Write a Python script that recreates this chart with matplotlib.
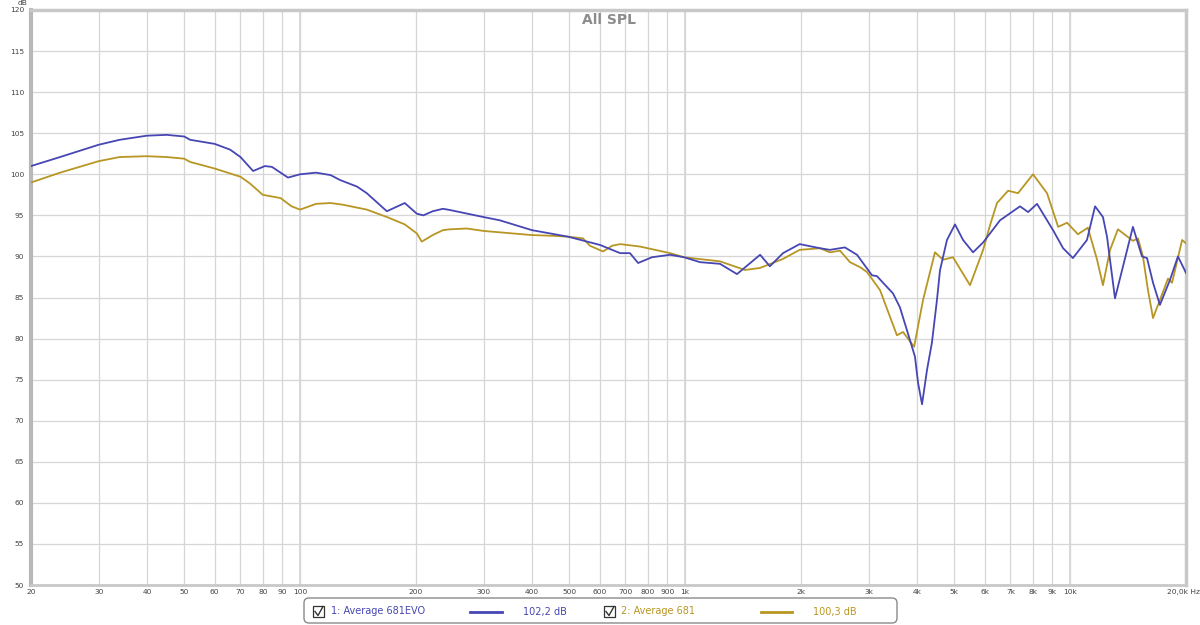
import matplotlib
matplotlib.use("Agg")
import matplotlib.pyplot as plt
from matplotlib.patches import FancyBboxPatch, Rectangle
from matplotlib.lines import Line2D

# ---------------- data ----------------
evo_freq = [20, 23.8, 30, 34, 40, 45, 50, 51.8, 60, 65.8, 70, 75.5, 81, 84.5, 93, 100,
            110, 120, 127, 140.6, 149, 168, 187, 201, 209, 221, 235, 245, 299, 330,
            400, 497, 601, 678, 719, 755, 820, 914, 994, 1094, 1232, 1364, 1566, 1660,
            1796, 1984, 2240, 2378, 2600, 2796, 3058, 3150, 3266, 3467, 3614, 3770,
            3954, 4028, 4125, 4250, 4376, 4510, 4592, 4788, 5024, 5272, 5596, 5944,
            6577, 7412, 7778, 8206, 9030, 9590, 10170, 11060, 11610, 12170, 12470,
            13080, 14560, 15370, 15840, 16420, 17110, 18160, 19060, 20000]
evo_db = [101.0, 102.1, 103.6, 104.2, 104.7, 104.8, 104.6, 104.2, 103.7, 103.0, 102.1,
          100.4, 101.0, 100.9, 99.6, 100.0, 100.2, 99.9, 99.3, 98.5, 97.7, 95.5, 96.5,
          95.2, 95.0, 95.5, 95.8, 95.65, 94.8, 94.4, 93.2, 92.4, 91.4, 90.4, 90.4,
          89.2, 89.9, 90.2, 89.9, 89.3, 89.1, 87.85, 90.2, 88.8, 90.4, 91.5, 91.0,
          90.8, 91.1, 90.2, 87.7, 87.6, 86.8, 85.5, 83.8, 81.0, 77.8, 74.6, 72.0,
          76.2, 79.5, 84.7, 88.3, 92.0, 93.9, 92.0, 90.5, 91.7, 94.4, 96.1, 95.4,
          96.4, 93.2, 91.0, 89.8, 92.0, 96.1, 94.8, 92.4, 84.9, 93.6, 90.0, 89.8,
          86.8, 84.1, 87.1, 90.0, 88.0]

std_freq = [20, 23.8, 30, 34, 40, 45, 50, 51.8, 60, 65.8, 70, 74, 80, 84.5, 89, 95,
            100, 110, 120, 129, 149, 168, 187, 201, 207, 221, 235, 245, 271, 300,
            400, 459, 497, 543, 566, 612, 646, 678, 764, 914, 994, 1232, 1431, 1566,
            1796, 1984, 2240, 2378, 2526, 2680, 2846, 2968, 3208, 3550, 3682, 3934,
            4150, 4456, 4676, 4964, 5496, 5944, 6194, 6458, 6902, 7324, 8012, 8710,
            9310, 9820, 10480, 11120, 11750, 12170, 12700, 13310, 14560, 15010,
            15460, 15930, 16420, 17110, 17960, 18400, 19540, 20000]
std_db = [99.0, 100.2, 101.6, 102.1, 102.2, 102.1, 101.9, 101.5, 100.7, 100.1, 99.7,
          98.9, 97.5, 97.3, 97.1, 96.1, 95.7, 96.4, 96.5, 96.3, 95.7, 94.8, 93.9,
          92.8, 91.8, 92.6, 93.2, 93.3, 93.4, 93.1, 92.6, 92.5, 92.4, 92.2, 91.3,
          90.6, 91.3, 91.5, 91.2, 90.4, 89.9, 89.4, 88.35, 88.6, 89.7, 90.8, 91.0,
          90.5, 90.7, 89.3, 88.7, 88.1, 85.9, 80.4, 80.8, 79.0, 84.7, 90.5, 89.6,
          89.9, 86.5, 90.8, 93.8, 96.5, 98.0, 97.7, 100.0, 97.7, 93.6, 94.1, 92.7,
          93.5, 89.6, 86.5, 90.8, 93.3, 91.9, 92.2, 90.0, 85.9, 82.5, 84.7, 87.3,
          86.8, 92.0, 91.6]

x_ticks = [20, 30, 40, 50, 60, 70, 80, 90, 100, 200, 300, 400, 500, 600, 700, 800,
           900, 1000, 2000, 3000, 4000, 5000, 6000, 7000, 8000, 9000, 10000, 20000]
x_labels = ["20", "30", "40", "50", "60", "70", "80", "90", "100", "200", "300", "400",
            "500", "600", "700", "800", "900", "1k", "2k", "3k", "4k", "5k", "6k", "7k",
            "8k", "9k", "10k", ""]
y_ticks = list(range(50, 121, 5))

series_names = ["1: Average 681EVO", "2: Average 681"]
series_levels = ["102,2 dB", "100,3 dB"]
BLUE = "#4646b4"
GOLD = "#b89623"

# ---------------- figure ----------------
W, H = 1200, 625
fig = plt.figure(figsize=(W / 100, H / 100), dpi=100)
fig.patch.set_facecolor("white")
L, R, T, B = 31, 1186, 10, 585
ax = fig.add_axes([L / W, (H - B) / H, (R - L) / W, (B - T) / H])
ax.set_xscale("log")
ax.set_xlim(20, 20000)
ax.set_ylim(50, 120)

ax.xaxis.set_major_locator(matplotlib.ticker.FixedLocator(x_ticks))
ax.xaxis.set_minor_locator(matplotlib.ticker.NullLocator())
ax.set_xticklabels(x_labels)
ax.set_yticks(y_ticks)
ax.set_yticklabels([str(v) for v in y_ticks])
ax.tick_params(axis="both", length=0, labelsize=5.4, labelcolor="#444444")
ax.tick_params(axis="x", pad=3)
ax.tick_params(axis="y", pad=5)

ax.grid(True, which="major", color="#d6d6d6", linewidth=0.9)
for v in (100, 1000, 10000):
    ax.axvline(v, color="#d0d0d0", linewidth=1.1, zorder=0.5)
ax.set_axisbelow(True)

for side, lw, col in (("left", 3.0, "#b8b8b8"), ("bottom", 2.0, "#c8c8c8"),
                      ("top", 2.5, "#c8c8c8"), ("right", 2.5, "#c8c8c8")):
    ax.spines[side].set_linewidth(lw)
    ax.spines[side].set_color(col)

ax.plot(std_freq, std_db, color=GOLD, linewidth=1.3, zorder=3)
ax.plot(evo_freq, evo_db, color=BLUE, linewidth=1.3, zorder=4)

ax.text(0.5, 0.995, "All SPL", transform=ax.transAxes, ha="center", va="top",
        fontsize=10, fontweight="bold", color="#8c8c8c")
ax.annotate("dB", xy=(0, 1), xycoords="axes fraction", xytext=(-13, 4),
            textcoords="offset pixels", fontsize=5.4, color="#444444",
            ha="left", va="bottom")
ax.annotate("20,0k Hz", xy=(20000, 50), xycoords="data", xytext=(-19, -7),
            textcoords="offset pixels", fontsize=5.4, color="#444444",
            ha="left", va="center")

# ---------------- legend (pixel overlay) ----------------
lax = fig.add_axes([0, 0, 1, 1])
lax.set_xlim(0, W)
lax.set_ylim(H, 0)
lax.axis("off")
lax.patch.set_visible(False)
box = FancyBboxPatch((304, 598), 593, 25, boxstyle="round,pad=0,rounding_size=5",
                     facecolor="white", edgecolor="#8a8a8a", linewidth=1.0)
lax.add_patch(box)

entries = [(313, 331, 470, 502, 523, BLUE), (604, 621, 761, 792, 813, GOLD)]
yc = 611.5
for (cbx, tx, lx0, lx1, vx, col), name, lvl in zip(entries, series_names, series_levels):
    lax.add_patch(Rectangle((cbx, yc - 5.5), 11, 11, facecolor="white",
                            edgecolor="#333333", linewidth=0.9))
    lax.add_line(Line2D([cbx + 2, cbx + 5, cbx + 10], [yc, yc + 4, yc - 5],
                        color="#333333", linewidth=1.0))
    lax.text(tx, yc, name, color=col, fontsize=7, va="center", ha="left")
    lax.add_line(Line2D([lx0, lx1], [yc + 0.5, yc + 0.5], color=col, linewidth=2.0))
    lax.text(vx, yc, lvl, color=col, fontsize=7, va="center", ha="left")

fig.savefig("out.png", dpi=100)
